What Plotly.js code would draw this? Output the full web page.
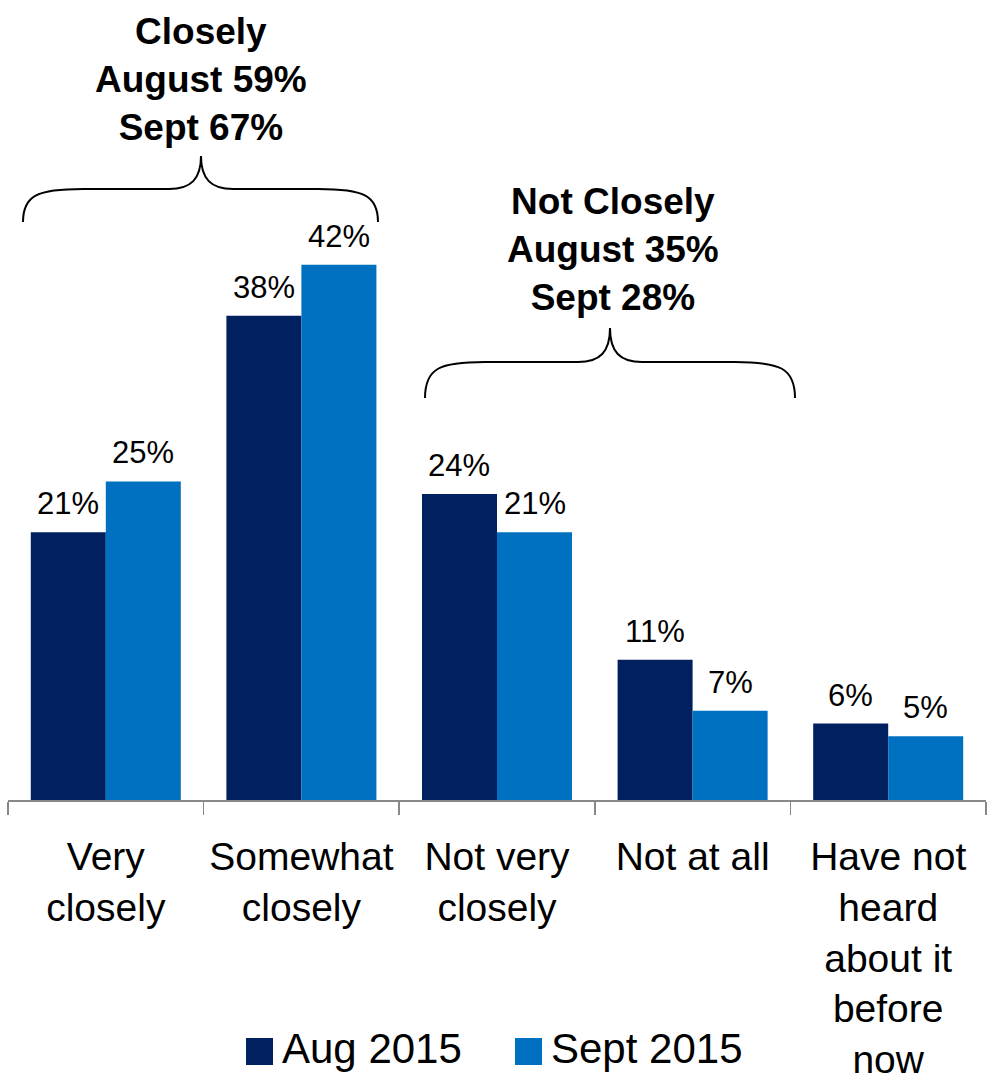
<!DOCTYPE html>
<html>
<head>
<meta charset="utf-8">
<script src="https://cdn.plot.ly/plotly-3.0.1.min.js"></script>
<style>html,body{margin:0;padding:0;background:#fff}#chart{width:990px;height:1081px}</style>
</head>
<body>
<div id="chart"></div>
<script>
// ---- data ----
const categories = ['Very closely', 'Somewhat closely', 'Not very closely', 'Not at all', 'Have not heard about it before now'];
const tickLabels = ['Very<br>closely', 'Somewhat<br>closely', 'Not very<br>closely', 'Not at all', 'Have not<br>heard<br>about it<br>before<br>now'];
const seriesNames = ['Aug 2015', 'Sept 2015'];
const aug2015 = [21, 38, 24, 11, 6];
const sept2015 = [25, 42, 21, 7, 5];
const groupTitles = ['Closely<br>August 59%<br>Sept 67%', 'Not Closely<br>August 35%<br>Sept 28%'];

// ---- styles ----
const colors = ['#002060', '#0070C0'];
const FONT = '"Liberation Sans", Arial, sans-serif';
const W = 990, H = 1081;
const M = {l: 8, r: 4, t: 0, b: 281};
const plotW = W - M.l - M.r, plotH = H - M.t - M.b;
const px2x = p => (p - M.l) / plotW;
const py2y = p => (plotH + M.t - p) / plotH;
const bargap = 0.233;
const catPx = plotW / categories.length;
const barPx = catPx * (1 - bargap) / 2;

const series = [aug2015, sept2015];
const traces = series.map((vals, i) => ({
  type: 'bar', name: seriesNames[i], x: categories, y: vals,
  marker: {color: colors[i]}, showlegend: false, hoverinfo: 'x+y+name'
}));

const annotations = [];
series.forEach((vals, i) => {
  vals.forEach((v, j) => {
    annotations.push({
      x: categories[j], y: v, xref: 'x', yref: 'y',
      text: v + '%', showarrow: false, yanchor: 'bottom',
      xshift: (i === 0 ? -1 : 1) * barPx / 2, yshift: 9,
      font: {family: FONT, size: 31, color: '#000'}
    });
  });
});

// group brace titles
const titlePos = [{x: 201, y: 150}, {x: 613, y: 320}];
groupTitles.forEach((t, k) => {
  annotations.push({
    x: px2x(titlePos[k].x), y: py2y(titlePos[k].y), xref: 'paper', yref: 'paper',
    text: '<b>' + t + '</b>', showarrow: false, yanchor: 'bottom', xanchor: 'center',
    font: {family: FONT, size: 37, color: '#000'}
  });
});

// braces
function brace(x1, x2, tip, yEnd, yMid, yTip) {
  const P = (x, y) => px2x(x) + ',' + py2y(y);
  const r = 60;
  return 'M' + P(x1, yEnd) +
    ' C' + P(x1, yMid + 6) + ' ' + P(x1 + 15, yMid) + ' ' + P(x1 + r, yMid) +
    ' L' + P(tip - 32, yMid) +
    ' C' + P(tip - 10, yMid) + ' ' + P(tip, yMid - 10) + ' ' + P(tip, yTip) +
    ' C' + P(tip, yMid - 10) + ' ' + P(tip + 10, yMid) + ' ' + P(tip + 32, yMid) +
    ' L' + P(x2 - r, yMid) +
    ' C' + P(x2 - 15, yMid) + ' ' + P(x2, yMid + 6) + ' ' + P(x2, yEnd);
}
const shapes = [
  {type: 'path', xref: 'paper', yref: 'paper', path: brace(23, 378, 201, 222, 189, 156), line: {color: '#000', width: 2}},
  {type: 'path', xref: 'paper', yref: 'paper', path: brace(425, 795, 610, 398, 362, 328), line: {color: '#000', width: 2}}
];

// custom legend
const legendItems = [{sx: 246, tx: 280}, {sx: 515, tx: 549}];
seriesNames.forEach((n, i) => {
  const it = legendItems[i];
  shapes.push({type: 'rect', xref: 'paper', yref: 'paper',
    x0: px2x(it.sx), x1: px2x(it.sx + 27), y0: py2y(1065), y1: py2y(1038),
    fillcolor: colors[i], line: {width: 0}});
  annotations.push({x: px2x(it.tx), y: py2y(1048), xref: 'paper', yref: 'paper',
    text: n, showarrow: false, xanchor: 'left', yanchor: 'middle',
    font: {family: FONT, size: 42, color: '#000'}});
});

const layout = {
  width: W, height: H, margin: M,
  paper_bgcolor: '#fff', plot_bgcolor: '#fff',
  barmode: 'group', bargap: bargap, bargroupgap: 0,
  showlegend: false,
  font: {family: FONT, color: '#000'},
  xaxis: {
    type: 'category', tickvals: categories, ticktext: tickLabels,
    tickson: 'boundaries', ticks: 'outside', ticklen: 13, tickcolor: '#888', tickwidth: 1.5,
    showline: true, linecolor: '#888', linewidth: 1.5,
    showgrid: false, zeroline: false,
    tickfont: {family: FONT, size: 39, color: '#000'},
    ticklabelstandoff: 22, fixedrange: true
  },
  yaxis: {range: [0, 62.77], visible: false, showgrid: false, zeroline: false, fixedrange: true},
  shapes: shapes, annotations: annotations
};

Plotly.newPlot('chart', traces, layout, {displayModeBar: false, staticPlot: true});
</script>
</body>
</html>
